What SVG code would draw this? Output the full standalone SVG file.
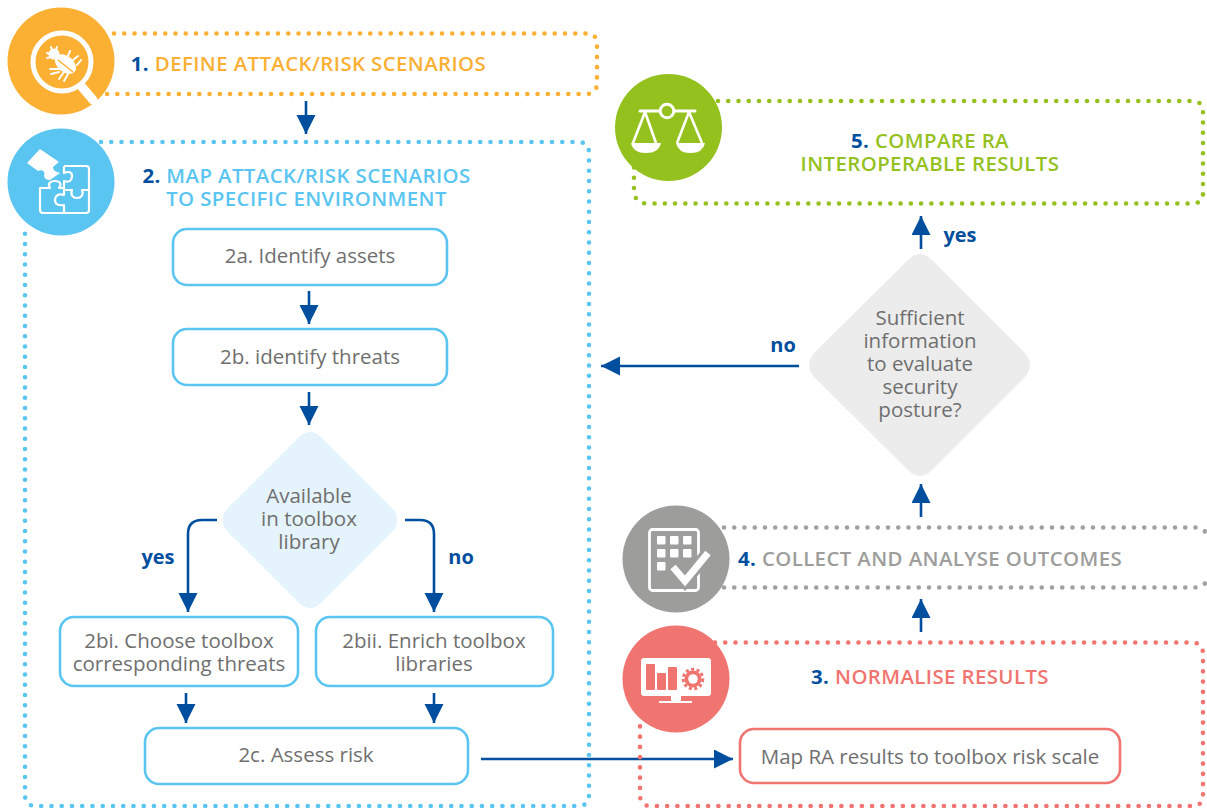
<svg xmlns="http://www.w3.org/2000/svg" width="1207" height="808" viewBox="0 0 1207 808">
<style>
text{font-family:"Open Sans","Noto Sans","Liberation Sans",sans-serif;text-anchor:middle}
.t{font-size:20.4px;font-weight:600;letter-spacing:.4px}
.n{fill:#004f9f;font-weight:700}
.b{font-size:20.5px;fill:#6f6f6f}
.l{font-size:20px;font-weight:700;fill:#004f9f}
.dot{fill:none;stroke-width:4.6;stroke-linecap:round;stroke-dasharray:0 10.25}
.box{fill:#fff;stroke:#5bc5f2;stroke-width:2.6}
.c{fill:none;stroke:#004f9f;stroke-width:2.6}
.w{fill:none;stroke:#fff;stroke-width:2.2;stroke-linejoin:round}
.f{fill:#fff}
</style>
<defs>
<marker id="a" markerUnits="userSpaceOnUse" markerWidth="22" markerHeight="20" refX="19" refY="9.500" orient="auto"><path d="M0 0L19 9.500L0 19Z" fill="#004f9f"/></marker>
</defs>
<g id="connectors">
<path class="c" marker-end="url(#a)" d="M306 101V134"/>
<path class="c" marker-end="url(#a)" d="M309 291V324"/>
<path class="c" marker-end="url(#a)" d="M309 392V425"/>
<path class="c" marker-end="url(#a)" d="M217 520H202Q188 520 188 534V612"/>
<path class="c" marker-end="url(#a)" d="M405 520H420Q434 520 434 534V612"/>
<path class="c" marker-end="url(#a)" d="M186 693V723"/>
<path class="c" marker-end="url(#a)" d="M434 693V723"/>
<path class="c" marker-end="url(#a)" d="M481 759H733"/>
<path class="c" marker-end="url(#a)" d="M921 632V599"/>
<path class="c" marker-end="url(#a)" d="M921 517V484"/>
<path class="c" marker-end="url(#a)" d="M799 366H601"/>
<path class="c" marker-end="url(#a)" d="M921 249V216"/>
</g>
<g id="node1">
<path class="dot" stroke="#fbb034" d="M114 33.500H586Q597 33.500 597 44V83Q597 94 586 94H103"/>
<circle cx="61" cy="61" r="53.5" fill="#fbb034"/>
<circle cx="62" cy="62" r="29" fill="#fbb034" stroke="#fff" stroke-width="5"/>
<path d="M82 87L93 100" stroke="#fff" stroke-width="9" stroke-linecap="round"/>
<circle class="f" cx="54" cy="54" r="5.500"/>
<ellipse class="f" cx="65.500" cy="64" rx="12" ry="8" transform="rotate(40 65.500 64)"/>
<path d="M58 60L73 72" stroke="#fbb034" stroke-width="1.500"/>
<path fill="none" stroke="#fff" stroke-width="2" stroke-linecap="round" d="M51 47L52 50M57 47L56 50M47 53L50 54M47 58L51 57M68 56L70 51M73 60L78 56M77 65L81 60M60 69L50 69M59 72L51 74M64 72L59 79M68 74L64 81"/>
<text class="t" x="308.500" y="71" fill="#fbb034"><tspan class="n">1.</tspan> DEFINE ATTACK/RISK SCENARIOS</text>
</g>
<g id="node2">
<path class="dot" stroke="#5bc5f2" d="M101 142H578Q589 142 589 153V795Q589 806 578 806H36Q25 806 25 795V229"/>
<circle cx="61" cy="182" r="53.5" fill="#5bc5f2"/>
<path class="f" d="M40 149L59 162L53 167C53 171 57 172 60 173L50 180C47 180 45 179 44 176C46 172 42 169 38 171L27 163Z"/>
<path class="w" d="M64 166H86Q89 166 89 169V210Q89 213 86 213H43Q40 213 40 210V188H50C47 183 51 181 55 181C60 181 62 184 59 188H64V195C57 193 55 197 55 200C55 204 58 206 64 205V213M64 188V181C70 183 72 180 72 176C72 172 69 171 64 173V166M64 190H72C70 195 73 198 77 198C81 198 84 195 82 190H89"/>
<text class="t" x="306.500" y="183" fill="#5bc5f2"><tspan class="n">2.</tspan> MAP ATTACK/RISK SCENARIOS</text>
<text class="t" x="306.500" y="206" fill="#5bc5f2">TO SPECIFIC ENVIRONMENT</text>
</g>
<g id="node2a"><rect class="box" x="173" y="229" width="274" height="56" rx="14"/><text class="b" x="310" y="263">2a. Identify assets</text></g>
<g id="node2b"><rect class="box" x="173" y="329" width="274" height="56" rx="14"/><text class="b" x="310" y="364">2b. identify threats</text></g>
<g id="decision2">
<path d="M299 437Q310 427 321 437L392 508Q403 520 392 532L321 603Q310 613 299 603L228 532Q217 520 228 508Z" fill="#e5f3fc"/>
<text class="b" x="309" y="503">Available</text><text class="b" x="309" y="526">in toolbox</text><text class="b" x="309" y="549">library</text>
</g>
<text class="l" x="158" y="564">yes</text>
<text class="l" x="461" y="564">no</text>
<g id="node2bi"><rect class="box" x="60" y="617" width="238" height="69" rx="14"/><text class="b" x="179" y="648">2bi. Choose toolbox</text><text class="b" x="179" y="671">corresponding threats</text></g>
<g id="node2bii"><rect class="box" x="316" y="617" width="237" height="69" rx="14"/><text class="b" x="434" y="648">2bii. Enrich toolbox</text><text class="b" x="434" y="671">libraries</text></g>
<g id="node2c"><rect class="box" x="145" y="728" width="323" height="56" rx="14"/><text class="b" x="306" y="762">2c. Assess risk</text></g>
<g id="node3">
<path class="dot" stroke="#f07470" d="M715 642.500H1192Q1203 642.500 1203 654V795Q1203 806 1192 806H651Q640 806 640 795V719"/>
<circle cx="676" cy="679" r="53.5" fill="#f07470"/>
<rect x="641" y="658" width="70" height="38" rx="3" fill="#fff"/>
<path d="M672 695H680V701H672ZM659 702H692" stroke="#fff" stroke-width="2" fill="#fff"/>
<g fill="#f07470"><rect x="646" y="664" width="9" height="26" rx="1"/><rect x="657" y="673" width="9" height="17" rx="1"/><rect x="668" y="667" width="9" height="23" rx="1"/>
<circle cx="693" cy="679" r="8.500"/></g>
<circle cx="693" cy="679" r="9.800" fill="none" stroke="#f07470" stroke-width="3" stroke-dasharray="3 2.500"/>
<circle cx="693" cy="679" r="4.800" fill="#fff"/>
<text class="t" x="930" y="684" fill="#f07470"><tspan class="n">3.</tspan> NORMALISE RESULTS</text>
<rect x="740" y="729" width="380" height="54" rx="14" fill="#fff" stroke="#f07470" stroke-width="2.6"/>
<text class="b" x="930" y="764">Map RA results to toolbox risk scale</text>
</g>
<g id="node4">
<path class="dot" stroke="#a0a09f" d="M724 527.500H1197L1206 532"/>
<path class="dot" stroke="#a0a09f" d="M724 587.500H1197L1206 583"/>
<circle cx="676" cy="559" r="53.5" fill="#9d9d9c"/>
<rect x="649.500" y="529.500" width="49" height="61" rx="3" class="w" style="stroke-width:2.8"/>
<g class="f"><rect x="657" y="536" width="8.500" height="8.500" rx="1"/><rect x="670" y="536" width="8.500" height="8.500" rx="1"/><rect x="683" y="536" width="8.500" height="8.500" rx="1"/><rect x="657" y="549" width="8.500" height="8.500" rx="1"/><rect x="670" y="549" width="8.500" height="8.500" rx="1"/><rect x="683" y="549" width="8.500" height="8.500" rx="1"/><rect x="657" y="562" width="8.500" height="8.500" rx="1"/></g>
<path d="M673 567L685 581L708 553" fill="none" stroke="#9d9d9c" stroke-width="13"/>
<path d="M673 567L685 581L708 553" fill="none" stroke="#fff" stroke-width="7"/>
<text class="t" x="930" y="566" fill="#9d9d9c"><tspan class="n">4.</tspan> COLLECT AND ANALYSE OUTCOMES</text>
</g>
<g id="decision5">
<path d="M908 260Q920 248 932 260L1024 352Q1036 365 1024 378L932 470Q920 482 908 470L815 378Q803 365 815 352Z" fill="#ececec"/>
<text class="b" x="920" y="325">Sufficient</text><text class="b" x="920" y="348">information</text><text class="b" x="920" y="371">to evaluate</text><text class="b" x="920" y="394">security</text><text class="b" x="920" y="417">posture?</text>
</g>
<text class="l" x="783" y="352">no</text>
<text class="l" x="960" y="242">yes</text>
<g id="node5">
<path class="dot" stroke="#95c11f" d="M718 101H1192Q1203 101 1203 112V193Q1203 203.500 1192 203.500H648Q634 203.500 634 190V167"/>
<circle cx="668.500" cy="127.500" r="53.5" fill="#95c11f"/>
<path d="M640 111H695" stroke="#fff" stroke-width="3" stroke-linecap="round"/>
<circle cx="667" cy="111" r="6.800" fill="#95c11f" stroke="#fff" stroke-width="3"/>
<path class="w" style="stroke-width:2.600" d="M645 112L633 143M645 112L656 143M689 112L677 143M689 112L702 143"/>
<path class="f" d="M631 143H661Q659 153 646 153Q633 153 631 143ZM676 143H705Q703 153 690.500 153Q678 153 676 143Z"/>
<text class="t" x="930" y="148" fill="#95c11f"><tspan class="n">5.</tspan> COMPARE RA</text>
<text class="t" x="930" y="171" fill="#95c11f">INTEROPERABLE RESULTS</text>
</g>
</svg>
